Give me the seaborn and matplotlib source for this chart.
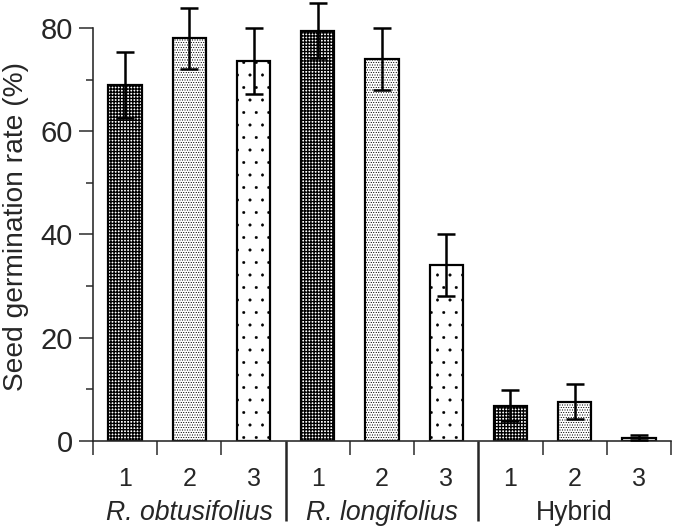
import numpy as np
import pandas as pd
import matplotlib
matplotlib.use("Agg")
import matplotlib.pyplot as plt
import seaborn as sns

# ---------------------------------------------------------------------------
# DATA
# ---------------------------------------------------------------------------
GROUPS   = ["R. obtusifolius", "R. longifolius", "Hybrid"]
REPS     = ["1", "2", "3"]
RATE     = [69.0, 78.0, 73.6,   79.5, 74.0, 34.1,   6.8, 7.6, 0.6]   # %
RATE_SD  = [6.4, 5.9, 6.4,      5.3, 6.0, 6.0,      3.0, 3.4, 0.5]

# ---------------------------------------------------------------------------
# STYLE
# ---------------------------------------------------------------------------
DPI = 75
PX = 72 / DPI                     # points per pixel
HATCHES = {"1": "++++", "2": ".....", "3": "."}
HATCH_LW = {"1": 1.3, "2": 0.6, "3": 0.4}

sns.set_style("ticks")
plt.rcParams["font.family"] = ["Liberation Sans", "DejaVu Sans"]
plt.rcParams["hatch.linewidth"] = 1.0

df = pd.DataFrame({
    "group": np.repeat(GROUPS, len(REPS)),
    "rep": REPS * len(GROUPS),
    "rate": RATE,
    "sd": RATE_SD,
})
df["cond"] = df["group"] + " " + df["rep"]

fig = plt.figure(figsize=(675 / DPI, 528 / DPI), dpi=DPI)
ax = fig.add_axes([93 / 675, 1 - 441 / 528, 578 / 675, 413 / 528])

sns.barplot(data=df, x="cond", y="rate", order=list(df["cond"]),
            color="white", edgecolor="black", linewidth=2.2 * PX,
            width=0.52, errorbar=None, saturation=1, ax=ax)

# motifs de remplissage selon le numero de repetition
for patch, rep in zip(ax.patches, df["rep"]):
    patch.set_facecolor("white")
    patch.set_hatch(HATCHES[rep])
    if hasattr(patch, "set_hatch_linewidth"):
        patch.set_hatch_linewidth(HATCH_LW[rep])

xpos = np.arange(len(df))
ax.errorbar(xpos, df["rate"], yerr=df["sd"], fmt="none", ecolor="black",
            elinewidth=2.5 * PX, capsize=9 * PX, capthick=2.5 * PX,
            zorder=5, clip_on=False)

# ---- y axis ---------------------------------------------------------------
ax.set_ylim(0, 80)
ax.set_yticks([0, 20, 40, 60, 80])
ax.set_yticks([10, 30, 50, 70], minor=True)
ax.tick_params(axis="y", which="major", length=14 * PX, width=1.5 * PX,
               pad=6 * PX, labelsize=28)
ax.tick_params(axis="y", which="minor", length=7 * PX, width=1.5 * PX)
ax.set_ylabel("Seed germination rate (%)", fontsize=27)
ax.yaxis.set_label_coords(-0.111, 0.52)

# ---- x axis ---------------------------------------------------------------
ax.set_xlim(-0.5, len(df) - 0.5)
bounds = np.arange(-0.5, len(df), 1.0)
ax.set_xticks(bounds, labels=[""] * len(bounds))
ax.set_xticks(xpos, labels=list(df["rep"]), minor=True)
ax.tick_params(axis="x", which="major", length=14 * PX, width=1.5 * PX)
ax.tick_params(axis="x", which="minor", length=0, pad=26 * PX, labelsize=24)
ax.set_xlabel("")
for b, tick in zip(bounds, ax.xaxis.get_major_ticks()):
    if b in (2.5, 5.5):
        tick.tick1line.set_markersize(80 * PX)
        tick.tick1line.set_markeredgewidth(2.5 * PX)

for i, name in enumerate(GROUPS):
    gx = i * len(REPS) + (len(REPS) - 1) / 2
    ax.text(gx, -0.191, name, transform=ax.get_xaxis_transform(),
            ha="center", va="baseline", fontsize=25.5,
            style="normal" if name == "Hybrid" else "italic")

for side in ("top", "right"):
    ax.spines[side].set_visible(False)
for side in ("left", "bottom"):
    ax.spines[side].set_linewidth(1.6 * PX)

fig.savefig("out.png", dpi=DPI)
